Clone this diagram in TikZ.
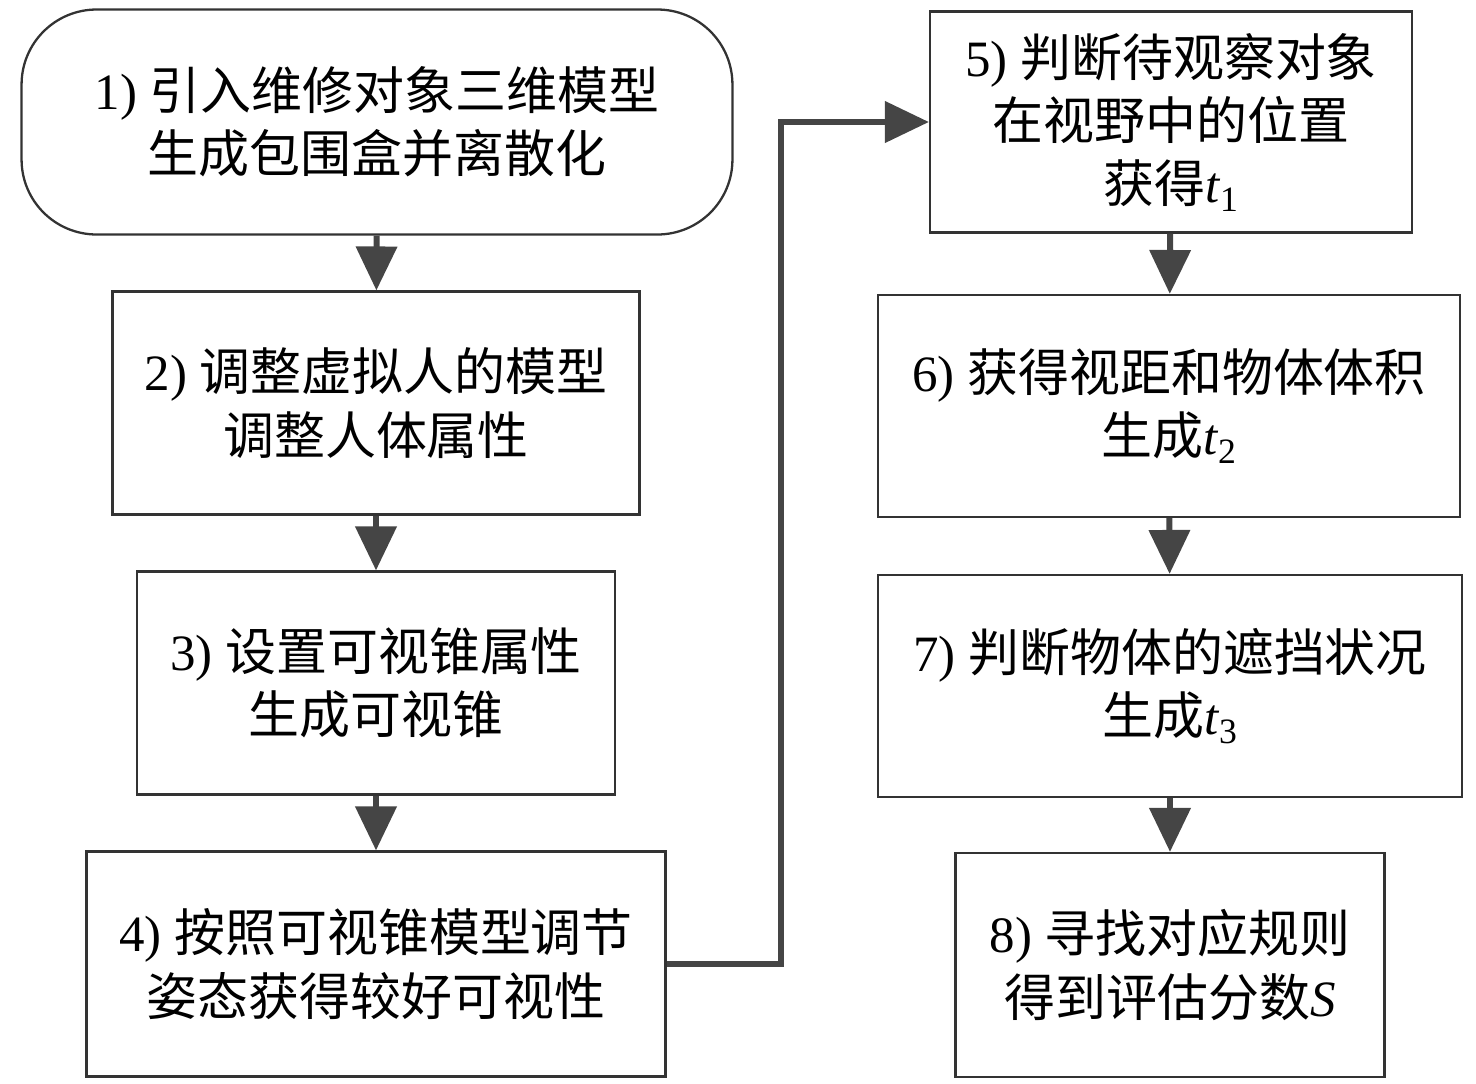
\documentclass[tikz,border=0pt]{standalone}
\usepackage{fontspec}
\setmainfont{Liberation Serif}
\newfontfamily\cjk{Noto Sans CJK SC}
\usetikzlibrary{arrows.meta}

\definecolor{boxgray}{HTML}{333333}
\definecolor{arrowgray}{HTML}{454545}

\tikzset{
  stepbox/.style={draw=boxgray, line width=1.3pt, align=center, inner sep=0pt,
    font=\fontsize{29}{36}\selectfont},
  startbox/.style={stepbox, rounded corners=1.5cm},
  flow/.style={draw=arrowgray, line width=3.4pt, -{Triangle[length=25pt,width=23pt]}},
}

\begin{document}
\begin{tikzpicture}[x=0.02cm, y=-0.02cm]
      \useasboundingbox (0,0) rectangle (1476,1083);

      \node[startbox, minimum width=14.22cm, minimum height=4.5cm] (n1) at (377,122)
        {1) {\cjk 引入维修对象三维模型}\\{\cjk 生成包围盒并离散化}};
      \node[stepbox, minimum width=10.54cm, minimum height=4.46cm] (n2) at (376,403)
        {2) {\cjk 调整虚拟人的模型}\\{\cjk 调整人体属性}};
      \node[stepbox, minimum width=9.56cm, minimum height=4.46cm] (n3) at (376,683)
        {3) {\cjk 设置可视锥属性}\\{\cjk 生成可视锥}};
      \node[stepbox, minimum width=11.58cm, minimum height=4.5cm] (n4) at (376,964)
        {4) {\cjk 按照可视锥模型调节}\\{\cjk 姿态获得较好可视性}};

      \node[stepbox, minimum width=9.64cm, minimum height=4.42cm] (n5) at (1171,122)
        {5) {\cjk 判断待观察对象}\\{\cjk 在视野中的位置}\\{\cjk 获得}\textit{t}\textsubscript{1}};
      \node[stepbox, minimum width=11.64cm, minimum height=4.44cm] (n6) at (1169,406)
        {6) {\cjk 获得视距和物体体积}\\{\cjk 生成}\textit{t}\textsubscript{2}};
      \node[stepbox, minimum width=11.68cm, minimum height=4.44cm] (n7) at (1170,686)
        {7) {\cjk 判断物体的遮挡状况}\\{\cjk 生成}\textit{t}\textsubscript{3}};
      \node[stepbox, minimum width=8.58cm, minimum height=4.48cm] (n8) at (1170,965)
        {8) {\cjk 寻找对应规则}\\{\cjk 得到评估分数}\textit{S}};

      \draw[flow] (n1) -- (n2);
      \draw[flow] (n2) -- (n3);
      \draw[flow] (n3) -- (n4);
      \draw[flow] (n4.east) -- ++(114,0) |- (n5.west);
      \draw[flow] (n5) -- (n6);
      \draw[flow] (n6) -- (n7);
      \draw[flow] (n7) -- (n8);
    \end{tikzpicture}
\end{document}
